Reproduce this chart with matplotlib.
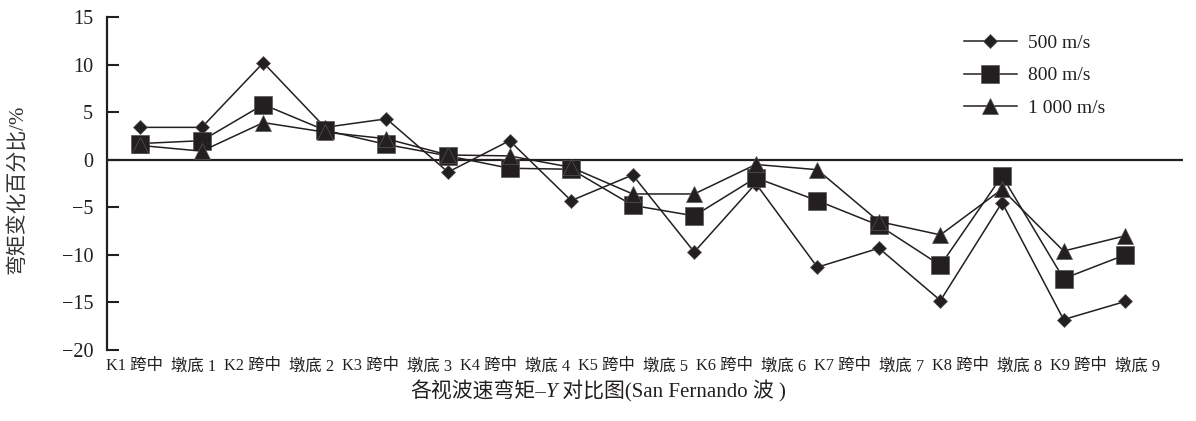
import numpy as np
import matplotlib
matplotlib.use('Agg')
import matplotlib.pyplot as plt

# Section labels along the bridge (read left to right)
section_labels = ['K1 跨中', '墩底 1', 'K2 跨中', '墩底 2', 'K3 跨中', '墩底 3',
                  'K4 跨中', '墩底 4', 'K5 跨中', '墩底 5', 'K6 跨中', '墩底 6',
                  'K7 跨中', '墩底 7', 'K8 跨中', '墩底 8', 'K9 跨中', '墩底 9']

# Moment change percentage (%) for each shear wave velocity
v500 = [3.4, 3.4, 10.2, 3.4, 4.3, -1.3, 2.0, -4.3, -1.6, -9.7, -2.5, -11.3,
        -9.3, -14.8, -4.5, -16.8, -14.9]
v800 = [1.7, 2.0, 5.8, 3.1, 1.6, 0.4, -0.9, -1.0, -4.8, -5.9, -1.9, -4.3,
        -6.9, -11.1, -1.7, -12.5, -10.0]
v1000 = [1.5, 0.9, 3.9, 2.9, 2.2, 0.5, 0.4, -0.8, -3.6, -3.6, -0.5, -1.05,
         -6.5, -7.9, -3.1, -9.6, -8.0]
series_names = ['500 m/s', '800 m/s', '1 000 m/s']
y_ticks = [-20, -15, -10, -5, 0, 5, 10, 15]

ink = '#231f20'
latin_cjk = ['Liberation Serif', 'Noto Sans CJK SC']
plt.rcParams['font.family'] = latin_cjk
plt.rcParams['text.color'] = ink

W, H = 1196, 421
fig = plt.figure(figsize=(W / 100, H / 100), dpi=100)
ax = fig.add_axes([107 / W, 1 - 350 / H, (1183 - 107) / W, (350 - 17) / H])

x = np.arange(len(v500))
styles = [('D', 7.2), ('s', 12.5), ('^', 11)]
for vals, name, (mk, ms) in zip([v500, v800, v1000], series_names, styles):
    ax.plot(x, vals, color=ink, lw=1.1, marker=mk, ms=ms,
            mfc=ink, mec='#555555', mew=0.5, label=name, clip_on=False)

ax.axhline(0, color=ink, lw=1.6, zorder=1)

ax.set_xlim(-0.54, 16.94)
ax.set_ylim(-20, 15)
ax.set_yticks(y_ticks)
ax.set_yticklabels([str(t).replace('-', '\u2212') for t in y_ticks], fontsize=14.5)
ax.tick_params(axis='y', direction='in', length=8.5, width=1.5,
               color=ink, pad=10, labelcolor=ink)

label_pos = np.linspace(-0.1, 16.2, len(section_labels))
ax.set_xticks(label_pos)
ax.set_xticklabels(section_labels, fontsize=11.8)
ax.tick_params(axis='x', length=0, pad=6, labelcolor=ink)

for side in ['top', 'right', 'bottom']:
    ax.spines[side].set_visible(False)
ax.spines['left'].set_linewidth(1.6)
ax.spines['left'].set_color(ink)

leg = ax.legend(loc='upper left', bbox_to_anchor=(964 / W, 1 - 34 / H),
                bbox_transform=fig.transFigure, frameon=False, fontsize=14,
                handlelength=2.7, handletextpad=0.6, labelspacing=0.78,
                borderpad=0, borderaxespad=0, numpoints=1)

fig.text(18 / W, 1 - 189 / H, '弯矩变化百分比/%', rotation=90, fontsize=15,
         ha='center', va='center', color='#333333')

# x-axis caption, with the italic Y set as its own piece
t1 = fig.text(410 / W, 1 - 392 / H, '各视波速弯矩–', fontsize=15,
              ha='left', va='center')
t2 = ax.annotate('Y', xy=(1, 0), xycoords=t1, fontsize=15, style='italic',
                 ha='left', va='bottom', annotation_clip=False)
ax.annotate(' 对比图(San Fernando 波 )', xy=(1, 0), xycoords=t2, fontsize=15,
            ha='left', va='bottom', annotation_clip=False)

fig.savefig('out.png', dpi=100)
